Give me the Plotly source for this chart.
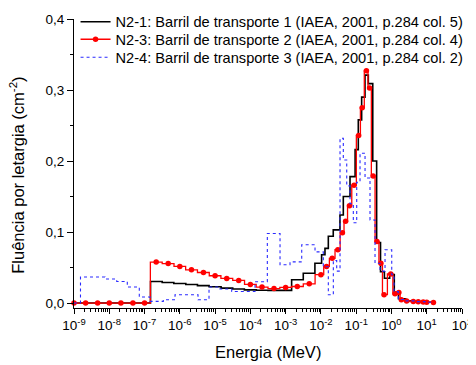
import numpy as np
import plotly.graph_objects as go

# ---------------- data (log10 of energy in MeV) ----------------
# N2-1 : histogram (bin edges + values)
n21_log_edges = [-9.0, -6.83, -6.5, -6.17, -5.83, -5.5, -5.17, -4.83, -4.5, -4.17, -3.83,
                 -3.5, -2.83, -2.5, -2.17, -1.98, -1.885, -1.79, -1.65, -1.46, -1.365,
                 -1.175, -1.03, -0.94, -0.845, -0.75, -0.656, -0.53, -0.42, -0.31, -0.2,
                 -0.05, 0.08, 0.2, 0.4, 0.6, 0.85, 1.0, 1.18]
n21_values = [0.0, 0.0304, 0.029, 0.0275, 0.026, 0.0245, 0.023, 0.021, 0.0197, 0.0185, 0.018,
              0.0178, 0.0328, 0.042, 0.056, 0.068, 0.077, 0.094, 0.103, 0.124, 0.15,
              0.178, 0.216, 0.258, 0.29, 0.321, 0.309, 0.20, 0.085, 0.044, 0.035,
              0.040, 0.015, 0.006, 0.003, 0.002, 0.0015, 0.001]

# N2-3 : points (drawn as centred steps with markers)
n23_log_e = [-9.0, -8.67, -8.33, -8.0, -7.67, -7.33, -7.0, -6.67, -6.33, -6.0, -5.67, -5.33,
             -5.0, -4.67, -4.33, -4.0, -3.67, -3.33, -3.0, -2.67, -2.33, -2.0, -1.84,
             -1.68, -1.52, -1.39, -1.30, -1.19, -1.06, -0.93, -0.83, -0.71, -0.62, -0.52,
             -0.41, -0.30, -0.21, -0.02, 0.10, 0.21, 0.28, 0.43, 0.62, 0.76, 0.90, 1.0, 1.19]
n23_values = [0, 0, 0, 0, 0, 0, 0, 0.0577, 0.0555, 0.0515, 0.0468, 0.043,
              0.0384, 0.0346, 0.0318, 0.0262, 0.0225, 0.0204, 0.022, 0.0233, 0.027, 0.040, 0.0515,
              0.063, 0.075, 0.099, 0.115, 0.137, 0.166, 0.236, 0.275, 0.327, 0.303, 0.179,
              0.0866, 0.056, 0.0117, 0.041, 0.013, 0.015, 0.0046, 0.003, 0.002, 0.0018, 0.0015, 0.0012, 0.0008]

# N2-4 : histogram (bin edges + values)
n24_log_edges = [-9.0, -8.816, -8.121, -7.789, -7.489, -7.149, -6.845, -6.468, -6.136, -5.484,
                 -5.172, -4.861, -4.529, -3.868, -3.519, -3.159, -2.876, -2.544, -2.167, -1.932,
                 -1.790, -1.648, -1.552, -1.458, -1.365, -1.268, -1.175, -1.081, -0.985, -0.891,
                 -0.749, -0.608, -0.466, -0.324, -0.182, 0.008, 0.073, 0.195, 0.385, 0.668,
                 0.952, 1.179]
n24_values = [0.0, 0.0366, 0.0338, 0.0304, 0.0225, 0.0084, 0.0023, 0.0046, 0.0117, 0.0046,
              0.0225, 0.0197, 0.0163, 0.030, 0.098, 0.054, 0.058, 0.082, 0.072, 0.051,
              0.0117, 0.060, 0.045, 0.232, 0.2015, 0.165, 0.14, 0.113, 0.17, 0.211,
              0.176, 0.117, 0.056, 0.045, 0.075, 0.04, 0.016, 0.005, 0.003, 0.002,
              0.001]

names = ["N2-1: Barril de transporte 1 (IAEA, 2001, p.284 col. 5)",
         "N2-3: Barril de transporte 2 (IAEA, 2001, p.284 col. 4)",
         "N2-4: Barril de transporte 3 (IAEA, 2001, p.284 col. 2)"]

x_tick_exps = list(range(-9, 3))
y_ticks = [0.0, 0.1, 0.2, 0.3, 0.4]

# ---------------- figure ----------------
def hist_xy(log_edges, vals):
    x = [10 ** e for e in log_edges]
    y = list(vals) + [vals[-1]]
    return x, y

fig = go.Figure()

x1, y1 = hist_xy(n21_log_edges, n21_values)
fig.add_trace(go.Scatter(x=x1, y=y1, mode="lines", name=names[0], legend="legend",
                         line=dict(color="black", width=1.6, shape="hv")))

fig.add_trace(go.Scatter(x=[10 ** e for e in n23_log_e], y=n23_values, mode="lines+markers",
                         name=names[1], cliponaxis=False, legend="legend2",
                         line=dict(color="#ff0000", width=1.3, shape="hvh"),
                         marker=dict(color="#ff0000", size=5.5, symbol="circle")))

x3, y3 = hist_xy(n24_log_edges, n24_values)
fig.add_trace(go.Scatter(x=x3, y=y3, mode="lines", name=names[2], legend="legend3",
                         line=dict(color="#2a2aff", width=1.1, shape="hv", dash="dot")))

font_family = "Liberation Sans, Arial, sans-serif"

def leg(yc):
    return dict(x=0.004, y=yc, xanchor="left", yanchor="middle",
                bgcolor="rgba(0,0,0,0)", font=dict(size=14.6, family=font_family),
                itemwidth=30)

fig.update_layout(
    width=468, height=357,
    margin=dict(l=66, r=14, t=11, b=57, autoexpand=False),
    paper_bgcolor="white", plot_bgcolor="white",
    font=dict(family=font_family, size=13, color="black"),
    separators=", ",
    showlegend=True,
    legend=leg(0.9907),
    legend2=leg(0.9299),
    legend3=leg(0.8677),
    xaxis=dict(type="log", range=[-9, 2], showline=True, linecolor="black", linewidth=1,
               ticks="outside", ticklen=5, tickwidth=1, tickcolor="black",
               tickmode="array", tickvals=[10 ** e for e in x_tick_exps],
               ticktext=["10<sup>%d</sup>" % e for e in x_tick_exps],
               minor=dict(ticks="outside", ticklen=3, tickcolor="black", dtick="D1"),
               showgrid=False, zeroline=False, mirror=False, automargin=False,
               tickfont=dict(size=13.5)),
    yaxis=dict(range=[-0.007, 0.4], showline=True, linecolor="black", linewidth=1,
               ticks="outside", ticklen=6, tickwidth=1, tickcolor="black",
               tickmode="array", tickvals=y_ticks, tickformat=".1f",
               minor=dict(ticks="outside", ticklen=3, tickcolor="black", dtick=0.05),
               showgrid=False, zeroline=False, mirror=False, automargin=False,
               tickfont=dict(size=13.5)),
    annotations=[
        dict(text="Fluência por letargia (cm<sup>-2</sup>)", textangle=-90,
             xref="paper", yref="paper", x=-0.147, y=0.461,
             xanchor="center", yanchor="middle", showarrow=False,
             font=dict(size=16.5, family=font_family)),
        dict(text="Energia (MeV)",
             xref="paper", yref="paper", x=0.5, y=-0.151,
             xanchor="center", yanchor="middle", showarrow=False,
             font=dict(size=16.5, family=font_family)),
    ],
)

fig.write_html("out.html")
